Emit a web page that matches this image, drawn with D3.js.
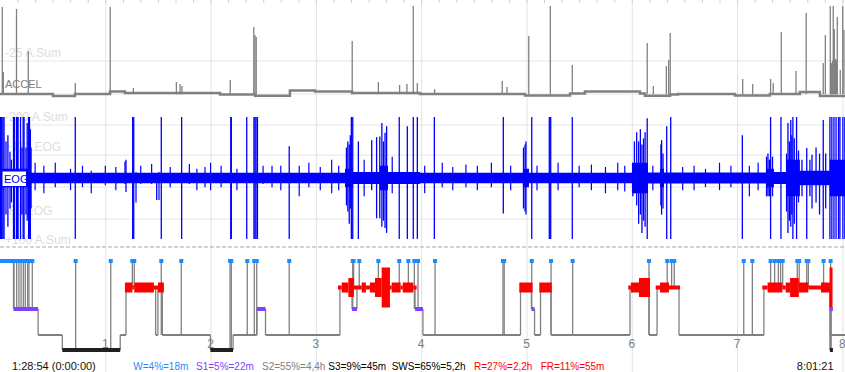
<!DOCTYPE html>
<html>
<head>
<meta charset="utf-8">
<script src="https://cdn.jsdelivr.net/npm/d3@7"></script>
<style>
body { margin: 0; background: #fff; }
svg { display: block; font-family: "Liberation Sans", Arial, sans-serif; }
</style>
</head>
<body>
<div id="chart"></div>
<script>
var svgWidth = 845;
var svgHeight = 372;

// time axis in minutes, grid every 60 min labelled 1..8
var totalMinutes = 481.5;
var hourTicks = [1, 2, 3, 4, 5, 6, 7, 8];

// ACCEL trace: baseline level segments [t0, t1, value] and spikes [t, value]
var accelBase = [
    [0, 30.2, 3.3], [30.2, 42.7, 1.1], [42.7, 62.7, 3.3], [62.7, 71.2, 6.0],
    [71.2, 125.4, 4.4], [125.4, 145.3, 2.7], [145.3, 165.2, 1.4], [165.2, 179.5, 7.1],
    [179.5, 200.6, 6.0], [200.6, 239.3, 4.4], [239.3, 299.1, 3.3], [299.1, 324.8, 1.6],
    [324.8, 333.3, 3.8], [333.3, 364.7, 6.0], [364.7, 367.5, 3.8], [367.5, 381.8, 1.4],
    [381.8, 386.3, 2.7], [386.3, 418.8, 3.3], [418.8, 438.7, 1.6], [438.7, 455.8, 3.3],
    [455.8, 467.2, 5.5], [467.2, 481.5, 1.1]
];
var accelSpikes = [
    [1.3, 98.9], [1.9, 27.5], [9.4, 96.7], [16.1, 50.5], [42.9, 15.4], [62.8, 98.9],
    [76.0, 9.9], [100.5, 16.5], [102.6, 14.3], [103.7, 12.1], [131.2, 18.7], [144.6, 76.9],
    [145.3, 68.1], [146.0, 65.9], [200.7, 61.5], [215.6, 16.5], [227.7, 13.2], [231.9, 14.3],
    [235.5, 100], [237.8, 15.4], [247.7, 8.8], [286.2, 17.6], [288.9, 11.0], [301.3, 67.0],
    [313.6, 100], [326.1, 35.2], [368.8, 59.3], [372.3, 12.1], [379.7, 34.1], [381.0, 40.7],
    [381.9, 70.3], [423.2, 19.8], [428.9, 14.3], [439.1, 19.8], [440.6, 15.4], [445.2, 71.4],
    [453.6, 28.6], [459.4, 92.3], [469.1, 37.4], [470.3, 68.1], [473.1, 100], [473.4, 37],
    [473.7, 37], [474.1, 37.4], [474.4, 40], [474.8, 100], [475.4, 74.7], [475.8, 37],
    [476.0, 42], [476.5, 40.7], [476.8, 38], [477.1, 87.9], [478.8, 29.7], [480.2, 100],
    [480.9, 73.6]
];

// EOG trace: noise envelope [t0, t1, amplitude] and spikes [t, low, high]
var eogBand = [
    [0, 17.1, 0.15], [17.1, 196.6, 0.085], [196.6, 201.1, 0.15], [201.1, 216.5, 0.1],
    [216.5, 221.1, 0.2], [221.1, 239.3, 0.1], [239.3, 298.0, 0.085], [298.0, 301.4, 0.15],
    [301.4, 360.1, 0.085], [360.1, 369.2, 0.25], [369.2, 376.1, 0.09], [376.1, 378.3, 0.15],
    [378.3, 436.5, 0.09], [436.5, 441.0, 0.15], [441.0, 447.9, 0.1], [447.9, 455.8, 0.3],
    [455.8, 472.9, 0.12], [472.9, 481.5, 0.3]
];
var eogSpikes = [
    [0.3, -1, 1], [0.7, -1, 1], [1.1, -1, 1], [1.7, -1, 1], [2.3, -1, 1], [3.4, -0.6, 0.6],
    [4.5, -0.8, 0.7], [5.7, -0.5, 0.43], [6.5, -0.4, 0.3], [7.7, -1, 1], [8.2, -1, 1],
    [9.4, -1, 1], [9.9, -1, 1], [10.3, -1, 1], [11.7, -1, 1], [12.5, -0.6, 0.5], [13.2, -1, 1],
    [13.7, -1, 1], [14.8, -0.6, 0.5], [15.5, -0.7, 0.9], [16.3, -1, 1], [16.8, -1, 1],
    [17.3, -1, 0.8], [17.7, -0.5, 0.5], [42.9, -1, 1], [71.8, -0.23, 0.3], [75.6, -1, 1],
    [76.2, -1, 1], [89.3, -0.36, 0.05], [91.9, -1, 1], [103.5, -1, 1], [131.5, -1, 1],
    [131.8, -1, 1], [140.6, -1, 1], [144.7, -1, 1], [145.3, -1, 1], [145.9, -1, 1],
    [146.7, -1, 1], [164.8, -1, 0.52], [197.4, -0.45, 0.5], [198.2, -0.55, 0.6],
    [199.0, -0.75, 0.55], [199.6, -0.5, 0.7], [200.2, -1, 1], [201.0, -1, 1], [204.2, -1, 0.6],
    [211.8, -0.2, 0.62], [214.6, -0.66, 0.67], [216.4, -0.66, 0.68], [217.6, -0.8, 0.9],
    [218.5, -0.7, 0.6], [219.4, -0.82, 0.74], [220.3, -0.9, 0.85], [227.5, -1, 1],
    [232.1, -1, 0.85], [235.5, -1, 1], [237.8, -1, 1], [247.5, -1, 1], [286.8, -0.58, 1],
    [298.3, -0.5, 0.5], [299.2, -0.55, 0.55], [299.7, -0.6, 0.6], [303.0, -1, 1],
    [313.0, -1, 1], [313.8, -1, 1], [326.1, -1, 1], [360.6, -0.3, 0.25], [361.5, -0.25, 0.6],
    [362.8, -0.45, 0.75], [363.9, -0.75, 0.6], [364.9, -0.6, 0.8], [365.8, -0.9, 0.55],
    [366.7, -0.7, 0.65], [367.6, -0.8, 0.75], [368.8, -1, 0.98], [376.6, -0.45, 0.55],
    [377.0, -0.6, 0.62], [377.8, -0.5, 0.4], [379.9, -1, 0.85], [382.2, -1, 1],
    [423.0, -1, 0.7], [436.8, -0.3, 0.35], [437.6, -0.3, 0.4], [438.4, -0.3, 0.3],
    [439.1, -1, 1], [440.2, -0.3, 0.35], [445.0, -1, 1], [448.2, -0.55, 0.4], [449.0, -0.9, 0.9],
    [449.8, -0.7, 0.6], [450.6, -0.8, 0.95], [451.2, -0.6, 0.7], [451.8, -1, 1],
    [452.6, -0.75, 0.65], [453.9, -1, 1], [455.0, -0.4, 0.45], [457.0, -0.3, 0.3],
    [459.7, -1, 0.49], [461.5, -0.3, 0.3], [462.7, -0.5, 0.38], [465.0, -0.4, 0.5],
    [467.0, -0.6, 0.4], [469.1, -1, 0.95], [470.5, -0.5, 0.4], [472.9, -1, 1], [474.0, -1, 1],
    [475.2, -1, 1], [476.4, -1, 1], [477.8, -1, 1], [478.6, -1, 1], [480.3, -1, 1], [481.4, -1, 1]
];
// smaller EOG deflections sticking out of the noise band [t, low, high]
var eogNoise = [
    [20.0, -0.2, 0.25], [25.0, -0.25, 0.2], [31.5, -0.15, 0.25], [40.2, -0.2, 0.15],
    [47.0, -0.15, 0.2], [52.0, -0.25, 0.12], [60.0, -0.12, 0.2], [66.0, -0.2, 0.18],
    [71.2, -0.1, 0.27], [77.5, -0.4, 0.1], [80.2, -0.1, 0.2], [86.4, -0.1, 0.23],
    [90.6, -0.36, 0.1], [97.0, -0.15, 0.18], [107.9, -0.1, 0.23], [112.2, -0.2, 0.15],
    [116.8, -0.15, 0.18], [120.0, -0.2, 0.25], [126.0, -0.15, 0.2], [135.0, -0.2, 0.15],
    [149.9, -0.1, 0.2], [155.0, -0.15, 0.2], [160.0, -0.2, 0.2], [170.5, -0.3, 0.2],
    [176.0, -0.15, 0.25], [182.5, -0.2, 0.18], [189.0, -0.25, 0.3], [193.0, -0.2, 0.2],
    [207.5, -0.3, 0.3], [223.5, -0.25, 0.35], [242.0, -0.25, 0.2], [252.0, -0.15, 0.25],
    [258.0, -0.2, 0.18], [265.5, -0.15, 0.22], [272.0, -0.2, 0.2], [280.0, -0.15, 0.25],
    [291.0, -0.2, 0.2], [306.0, -0.2, 0.2], [318.0, -0.2, 0.25], [330.0, -0.15, 0.2],
    [337.0, -0.2, 0.22], [345.0, -0.25, 0.18], [352.0, -0.2, 0.25], [356.0, -0.22, 0.2],
    [372.0, -0.2, 0.2], [389.0, -0.2, 0.18], [395.5, -0.2, 0.2], [402.0, -0.15, 0.15],
    [410.0, -0.2, 0.25], [416.5, -0.15, 0.2], [427.0, -0.3, 0.2], [432.0, -0.2, 0.25]
];

// hypnogram
var stages = ["W", "R", "S1", "S2", "S3"];
var hypno = [
    ["W", 0, 7.7], ["S1", 7.7, 21.7], ["S2", 21.7, 35.5], ["S3", 35.5, 68.5], ["S2", 68.5, 71.8],
    ["R", 71.8, 92.5], ["S2", 92.5, 119.9], ["S3", 119.9, 132.8], ["S2", 132.8, 146.4],
    ["S1", 146.4, 151.3], ["S2", 151.3, 193.7], ["R", 193.7, 236.5], ["S1", 236.5, 241.0],
    ["S2", 241.0, 296.6], ["R", 296.6, 302.8], ["S1", 302.8, 304.6], ["S2", 304.6, 308.0],
    ["R", 308.0, 314.0], ["S2", 314.0, 359.0], ["R", 359.0, 369.8], ["S2", 369.8, 374.4],
    ["R", 374.4, 386.9], ["S2", 386.9, 435.3], ["R", 435.3, 473.2], ["S2", 473.2, 481.5]
];
// short departures from the main stage [t0, t1, stage]
var excursions = [
    [88.7, 90.0, "S2"], [200.6, 203.4, "S1"], [472.9, 473.6, "S1"], [472.9, 473.6, "S3"]
];
// wake spikes [t, stage it leaves from]
var wakeSpikes = [
    [8.0, "S1"], [9.5, "S1"], [10.8, "S1"], [12.0, "S1"], [13.3, "S1"], [14.4, "S1"],
    [15.8, "S1"], [16.5, "S1"], [18.4, "S1"], [43.1, "S3"], [63.1, "S3"], [75.4, "R"],
    [76.5, "R"], [91.9, "S2"], [103.3, "S2"], [131.1, "S3"], [131.8, "S3"], [140.9, "S2"],
    [144.9, "S2"], [146.3, "S2"], [164.8, "S2"], [201.0, "S1"], [201.5, "R"], [204.7, "R"],
    [215.6, "R"], [227.5, "R"], [232.7, "R"], [236.1, "S1"], [238.2, "S1"], [247.9, "S2"],
    [286.6, "S2"], [287.3, "S2"], [303.0, "S1"], [314.0, "S2"], [326.3, "S2"], [369.8, "S2"],
    [380.2, "R"], [382.7, "R"], [384.2, "R"], [423.8, "S2"], [428.7, "S2"], [439.1, "R"],
    [441.4, "R"], [443.5, "R"], [444.8, "R"], [446.0, "R"], [454.3, "R"], [455.4, "R"],
    [459.7, "R"], [460.6, "R"], [469.3, "R"], [473.3, "S3"]
];
// REM density blocks [t0, t1, level 1..4]
var remBlocks = [
    [71.2, 75.4, 2], [75.4, 76.5, 1], [76.5, 87.7, 2], [87.7, 90.0, 1], [90.0, 93.4, 2],
    [192.6, 194.7, 1], [194.7, 198.5, 2], [198.5, 201.7, 3], [201.7, 206.1, 1], [206.1, 208.5, 2],
    [208.5, 210.8, 1], [210.8, 213.7, 2], [213.7, 217.5, 3], [217.5, 222.2, 4], [222.2, 223.2, 1],
    [223.2, 228.3, 2], [228.3, 229.5, 1], [229.5, 235.5, 2], [235.5, 237.4, 1],
    [295.9, 303.5, 2], [307.3, 314.4, 2],
    [358.0, 359.5, 1], [359.5, 364.1, 2], [364.1, 370.4, 3],
    [373.6, 376.1, 1], [376.1, 381.2, 2], [381.2, 387.5, 1],
    [434.4, 437.4, 1], [437.4, 445.8, 2], [445.8, 447.7, 1], [447.7, 450.2, 2], [450.2, 455.2, 3],
    [455.2, 460.6, 2], [460.6, 467.8, 1], [467.8, 472.9, 2], [472.7, 474.4, 4]
];

// summary line
var statLabels = ["W=4%=18m", "S1=5%=22m", "S2=55%=4,4h", "S3=9%=45m", "SWS=65%=5,2h", "R=27%=2,2h", "FR=11%=55m"];
var statColors = ["#1e8cff", "#8040ff", "#808080", "#000", "#000", "#ff0000", "#ff0000"];
var statX = [133.3, 196, 262, 328.3, 391.7, 474, 540.7];
var startLabel = "1:28:54 (0:00:00)";
var endLabel = "8:01:21";

var stageColor = { W: "#1a8cff", R: "#ff0000", S1: "#8040ff", S2: "#808080", S3: "#202020" };
var stageWidth = { W: 4, R: 4, S1: 4, S2: 2, S3: 4 };

var svg = d3.select("#chart")
    .append("svg")
    .attr("width", svgWidth)
    .attr("height", svgHeight);

// scales
var x = d3.scaleLinear().domain([0, totalMinutes]).range([0, svgWidth]);
var yAccel = d3.scaleLinear().domain([0, 100]).range([97, 6]);
var yEog = d3.scaleLinear().domain([-1, 1]).range([239, 117]);
var yStage = d3.scaleOrdinal().domain(stages).range([261, 287, 309, 335, 350]);
var remHeight = d3.scaleOrdinal().domain([1, 2, 3, 4]).range([4, 10, 19, 40]);

// grid
var gridY = [61, 94, 125, 155, 187, 219];
svg.append("g").selectAll("line")
    .data(gridY)
    .enter()
    .append("line")
    .attr("x1", 0).attr("x2", svgWidth)
    .attr("y1", d => d).attr("y2", d => d)
    .attr("stroke", "#e6e6e6");

var vGrid = svg.append("g")
    .call(d3.axisBottom(x).tickValues(hourTicks.map(h => h * 60)).tickSize(svgHeight).tickFormat(""));
vGrid.select(".domain").remove();
vGrid.selectAll("line").attr("stroke", "#e3e3e3");

var topTicks = svg.append("g")
    .call(d3.axisBottom(x).tickValues(d3.range(10, totalMinutes, 10)).tickSize(3).tickFormat(""));
topTicks.select(".domain").remove();
topTicks.selectAll("line").attr("stroke", "#cfcfcf");

// light channel labels
var faint = [["-25 A.Sum", 57], ["-200 A.Sum", 121], ["+112.EOG", 151], ["-80.EOG", 215], ["+100 A.Sum", 244]];
svg.append("g").selectAll("text")
    .data(faint)
    .enter()
    .append("text")
    .attr("x", 5).attr("y", d => d[1])
    .attr("font-size", "12px")
    .attr("fill", "#dcdcdc")
    .text(d => d[0]);

// ACCEL
var accelPts = [];
accelBase.forEach(function(d) { accelPts.push([d[0], d[2]]); accelPts.push([d[1], d[2]]); });
svg.append("path")
    .attr("d", d3.line().x(d => x(d[0])).y(d => yAccel(d[1]))(accelPts))
    .attr("fill", "none")
    .attr("stroke", "#808080")
    .attr("stroke-width", 2.5);
svg.append("g").selectAll("line")
    .data(accelSpikes)
    .enter()
    .append("line")
    .attr("x1", d => x(d[0])).attr("x2", d => x(d[0]))
    .attr("y1", yAccel(3)).attr("y2", d => yAccel(d[1]))
    .attr("stroke", "#808080")
    .attr("stroke-width", 1.3);
svg.append("text")
    .attr("x", 5).attr("y", 88)
    .attr("font-size", "11px")
    .attr("fill", "#808080")
    .text("ACCEL");

// EOG
var bandPts = [];
eogBand.forEach(function(d) { bandPts.push([d[0], d[2]]); bandPts.push([d[1], d[2]]); });
svg.append("path")
    .attr("d", d3.area().x(d => x(d[0])).y0(d => yEog(-d[1])).y1(d => yEog(d[1]))(bandPts))
    .attr("fill", "#0000ff");
svg.append("g").selectAll("line")
    .data(eogNoise)
    .enter()
    .append("line")
    .attr("x1", d => x(d[0])).attr("x2", d => x(d[0]))
    .attr("y1", d => yEog(d[1])).attr("y2", d => yEog(d[2]))
    .attr("stroke", "#0000ff")
    .attr("stroke-width", 1.2);
svg.append("g").selectAll("line")
    .data(eogSpikes)
    .enter()
    .append("line")
    .attr("x1", d => x(d[0])).attr("x2", d => x(d[0]))
    .attr("y1", d => yEog(d[1])).attr("y2", d => yEog(d[2]))
    .attr("stroke", "#0000ff")
    .attr("stroke-width", 1.3);
svg.append("rect")
    .attr("x", 2.5).attr("y", 171.5).attr("width", 23.5).attr("height", 14.5)
    .attr("fill", "#fff");
svg.append("text")
    .attr("x", 4).attr("y", 183)
    .attr("font-size", "11px")
    .attr("fill", "#0000ff")
    .text("EOG");

// separator
svg.append("line")
    .attr("x1", 0).attr("x2", svgWidth)
    .attr("y1", 247).attr("y2", 247)
    .attr("stroke", "#a8a8a8")
    .attr("stroke-dasharray", "4,2");

// hypnogram
function stageAt(t) {
    for (var i = 0; i < hypno.length; i++) {
        if (t >= hypno[i][1] && t < hypno[i][2]) return hypno[i][0];
    }
    return hypno[hypno.length - 1][0];
}
var hyp = svg.append("g");
var grey = "#808080";

hypno.forEach(function(d, i) {
    if (i == 0) return;
    hyp.append("line")
        .attr("x1", x(d[1])).attr("x2", x(d[1]))
        .attr("y1", yStage(hypno[i - 1][0])).attr("y2", yStage(d[0]))
        .attr("stroke", grey).attr("stroke-width", 1.3);
});
excursions.forEach(function(d) {
    var base = stageAt(d[0]);
    [d[0], d[1]].forEach(function(t) {
        hyp.append("line")
            .attr("x1", x(t)).attr("x2", x(t))
            .attr("y1", yStage(base)).attr("y2", yStage(d[2]))
            .attr("stroke", grey).attr("stroke-width", 1.3);
    });
});
hyp.selectAll(".wake")
    .data(wakeSpikes)
    .enter()
    .append("line")
    .attr("x1", d => x(d[0])).attr("x2", d => x(d[0]))
    .attr("y1", d => yStage(d[1])).attr("y2", yStage("W"))
    .attr("stroke", grey).attr("stroke-width", 1.3);

var segs = hypno.concat(excursions.map(d => [d[2], d[0], d[1]]));
hyp.selectAll(".seg")
    .data(segs.filter(d => d[0] == "S2"))
    .enter()
    .append("line")
    .attr("x1", d => x(d[1])).attr("x2", d => x(d[2]))
    .attr("y1", d => yStage(d[0])).attr("y2", d => yStage(d[0]))
    .attr("stroke", grey).attr("stroke-width", 2);

hyp.selectAll(".rem")
    .data(remBlocks)
    .enter()
    .append("rect")
    .attr("x", d => x(d[0]))
    .attr("width", d => x(d[1]) - x(d[0]))
    .attr("y", d => yStage("R") + 0.5 - remHeight(d[2]) / 2)
    .attr("height", d => remHeight(d[2]))
    .attr("fill", stageColor.R);

hyp.selectAll(".seg2")
    .data(segs.filter(d => d[0] == "S1" || d[0] == "S3" || d[0] == "W"))
    .enter()
    .append("rect")
    .attr("x", d => x(d[1]))
    .attr("width", d => Math.max(x(d[2]) - x(d[1]), 3))
    .attr("y", d => yStage(d[0]) - stageWidth[d[0]] / 2)
    .attr("height", d => stageWidth[d[0]])
    .attr("fill", d => stageColor[d[0]]);

hyp.selectAll(".wsq")
    .data(wakeSpikes)
    .enter()
    .append("rect")
    .attr("x", d => x(d[0]) - 2)
    .attr("y", yStage("W") - 2)
    .attr("width", 4).attr("height", 4)
    .attr("fill", stageColor.W);

// hour labels
svg.append("g").selectAll("text")
    .data(hourTicks)
    .enter()
    .append("text")
    .attr("x", d => x(d * 60))
    .attr("y", 348)
    .attr("text-anchor", "middle")
    .attr("font-size", "12px")
    .attr("fill", "#808080")
    .text(d => d);

// bottom texts
svg.append("text")
    .attr("x", 12).attr("y", 370)
    .attr("font-size", "11px")
    .attr("fill", "#111")
    .text(startLabel);
svg.append("text")
    .attr("x", 833.5).attr("y", 370)
    .attr("text-anchor", "end")
    .attr("font-size", "11px")
    .attr("fill", "#111")
    .text(endLabel);
svg.append("g").selectAll("text")
    .data(statLabels)
    .enter()
    .append("text")
    .attr("x", (d, i) => statX[i])
    .attr("y", 370)
    .attr("font-size", "10px")
    .attr("fill", (d, i) => statColors[i])
    .text(d => d);
</script>
</body>
</html>
